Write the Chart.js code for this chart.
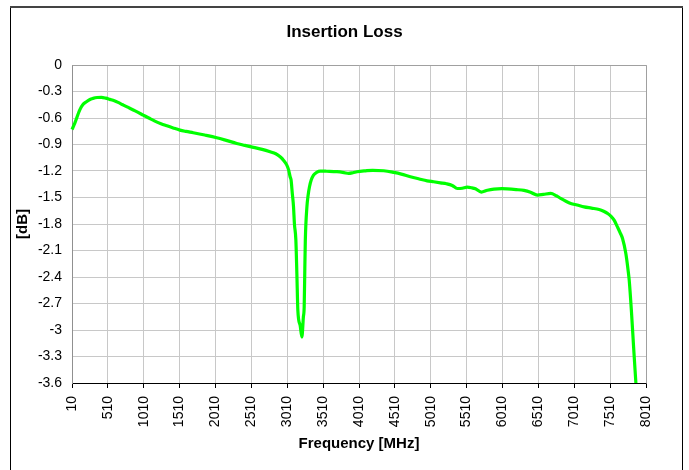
<!DOCTYPE html>
<html>
<head>
<meta charset="utf-8">
<script src="https://cdn.jsdelivr.net/npm/chart.js@4/dist/chart.umd.min.js"></script>
<style>
html,body{margin:0;padding:0;background:#fff;}
canvas{display:block;}
</style>
</head>
<body>
<canvas id="c" width="689" height="470"></canvas>
<script>
// ---- data ----
const frequencies = [10,48,117,160,211,260,303,360,420,480,537,600,652,710,770,890,1002,1080,1165,1250,1328,1420,1514,1600,1700,1860,2027,2160,2306,2420,2538,2660,2771,2850,2911,2960,3004,3030,3050,3063,3080,3097,3110,3130,3144,3158,3190,3214,3235,3246,3255,3262,3284,3300,3320,3345,3376,3420,3469,3560,3703,3800,3865,3925,3982,4100,4200,4354,4493,4600,4726,4850,4960,5050,5145,5230,5309,5379,5450,5518,5580,5634,5714,5800,5890,6000,6077,6200,6309,6400,6496,6580,6682,6760,6821,6900,6961,7050,7147,7250,7356,7420,7473,7520,7566,7610,7650,7683,7729,7760,7776,7809,7837,7869];
const insertionLoss = [-0.73,-0.66,-0.51,-0.45,-0.416,-0.39,-0.378,-0.368,-0.366,-0.375,-0.389,-0.405,-0.423,-0.447,-0.472,-0.52,-0.567,-0.6,-0.635,-0.664,-0.687,-0.713,-0.737,-0.752,-0.767,-0.793,-0.823,-0.853,-0.888,-0.91,-0.933,-0.955,-0.982,-1.005,-1.039,-1.08,-1.133,-1.19,-1.265,-1.30,-1.45,-1.60,-1.80,-1.98,-2.36,-2.78,-2.95,-3.08,-2.85,-2.74,-2.30,-1.98,-1.606,-1.48,-1.379,-1.30,-1.246,-1.215,-1.201,-1.203,-1.208,-1.218,-1.227,-1.22,-1.209,-1.198,-1.192,-1.197,-1.216,-1.235,-1.265,-1.29,-1.311,-1.322,-1.334,-1.345,-1.364,-1.398,-1.395,-1.383,-1.39,-1.402,-1.439,-1.418,-1.405,-1.40,-1.402,-1.41,-1.42,-1.44,-1.473,-1.465,-1.454,-1.48,-1.51,-1.545,-1.567,-1.585,-1.606,-1.62,-1.635,-1.655,-1.68,-1.71,-1.756,-1.83,-1.90,-1.964,-2.134,-2.32,-2.436,-2.814,-3.19,-3.60];
const xTickLabels = [10,510,1010,1510,2010,2510,3010,3510,4010,4510,5010,5510,6010,6510,7010,7510,8010];
const yTickLabels = [0,-0.3,-0.6,-0.9,-1.2,-1.5,-1.8,-2.1,-2.4,-2.7,-3,-3.3,-3.6];

const points = frequencies.map((f, i) => ({x: f, y: insertionLoss[i]}));
const FONT = 'Liberation Sans, Arial, sans-serif';

const framePlugin = {
  id: 'frame',
  beforeDraw(chart) {
    const ctx = chart.ctx;
    ctx.save();
    ctx.fillStyle = '#ffffff';
    ctx.fillRect(0, 0, chart.width, chart.height);
    ctx.restore();
  },
  afterDraw(chart) {
    const ctx = chart.ctx;
    const a = chart.chartArea;
    ctx.save();
    ctx.strokeStyle = '#000000';
    ctx.lineWidth = 1;
    ctx.beginPath();
    ctx.moveTo(10.5, 475);
    ctx.lineTo(10.5, 7.5);
    ctx.lineTo(682.5, 7.5);
    ctx.lineTo(682.5, 475);
    ctx.stroke();
    ctx.strokeStyle = '#444444';
    ctx.lineWidth = 2;
    ctx.beginPath();
    ctx.moveTo(10, 7);
    ctx.lineTo(683, 7);
    ctx.stroke();
    ctx.strokeStyle = '#a0a0a0';
    ctx.lineWidth = 1;
    ctx.beginPath();
    ctx.moveTo(Math.round(a.left) + 0.5, Math.round(a.top) + 0.5);
    ctx.lineTo(Math.round(a.right) + 0.5, Math.round(a.top) + 0.5);
    ctx.lineTo(Math.round(a.right) + 0.5, Math.round(a.bottom) + 0.5);
    ctx.stroke();
    ctx.restore();
  }
};

new Chart(document.getElementById('c'), {
  type: 'line',
  data: {
    datasets: [{
      data: points,
      borderColor: '#00ff00',
      borderWidth: 3.2,
      pointRadius: 0,
      fill: false,
      cubicInterpolationMode: 'monotone',
      clip: 3,
      yAxisID: 'y'
    }]
  },
  options: {
    responsive: false,
    animation: false,
    devicePixelRatio: 1,
    parsing: false,
    layout: { padding: { left: 0, right: 0, top: 0, bottom: 0 } },
    plugins: {
      legend: { display: false },
      tooltip: { enabled: false },
      title: {
        display: true,
        text: 'Insertion Loss',
        color: '#000',
        font: { family: FONT, size: 17, weight: 'bold', lineHeight: 1.2 },
        padding: { top: 22, bottom: 22.6 }
      }
    },
    scales: {
      x: {
        type: 'linear',
        min: 10,
        max: 8010,
        afterBuildTicks(scale) { scale.ticks = xTickLabels.map(v => ({ value: v })); },
        afterFit(scale) { scale.height = 87; },
        grid: { color: '#c8c8c8', lineWidth: 1, drawTicks: true, tickLength: 5, tickColor: '#000' },
        border: { color: '#000', width: 1 },
        ticks: {
          autoSkip: false,
          minRotation: 90,
          maxRotation: 90,
          padding: 8,
          color: '#000',
          font: { family: FONT, size: 14 },
          callback: v => String(v)
        },
        title: {
          display: true,
          text: 'Frequency [MHz]',
          color: '#000',
          font: { family: FONT, size: 15, weight: 'bold', lineHeight: 1.2 },
          padding: { top: 0, bottom: 17 }
        }
      },
      y: {
        type: 'linear',
        position: 'left',
        min: -3.6,
        max: 0,
        afterBuildTicks(scale) { scale.ticks = yTickLabels.map(v => ({ value: v })); },
        afterFit(scale) { scale.width = 72; },
        grid: { color: '#c8c8c8', lineWidth: 1, drawTicks: false },
        border: { color: '#909090', width: 1 },
        ticks: {
          padding: 10,
          color: '#000',
          font: { family: FONT, size: 14 },
          callback: v => String(Math.round(v * 10) / 10)
        },
        title: {
          display: true,
          text: '[dB]',
          color: '#000',
          font: { family: FONT, size: 15, weight: 'bold', lineHeight: 1.2 },
          padding: { top: 14, bottom: 0 }
        }
      },
      yRightSpace: {
        type: 'linear',
        position: 'right',
        min: -3.6,
        max: 0,
        afterFit(scale) { scale.width = 43; },
        grid: { display: false, drawTicks: false },
        border: { display: false },
        ticks: { display: false }
      }
    }
  },
  plugins: [framePlugin]
});
</script>
</body>
</html>
